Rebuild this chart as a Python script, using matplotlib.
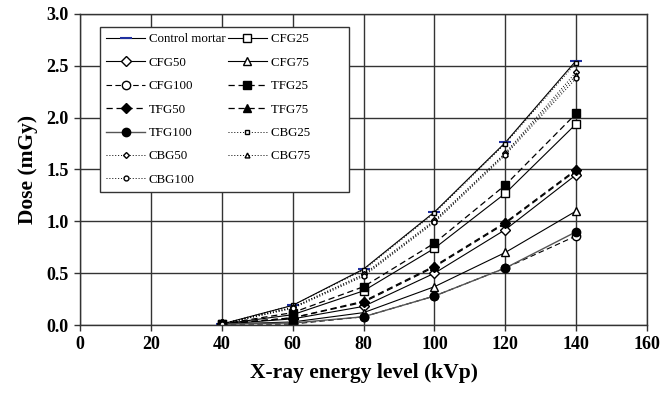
import numpy as np
import matplotlib
matplotlib.use('Agg')
import matplotlib.pyplot as plt

plt.rcParams['font.family'] = ['Liberation Serif', 'DejaVu Serif']

# --------------------------------------------------------------------------+
kvp = [40, 60, 80, 100, 120, 140]

control = [0.01, 0.19, 0.54, 1.09, 1.76, 2.55]
cfg25 = [0.01, 0.10, 0.33, 0.74, 1.27, 1.94]
cfg50 = [0.01, 0.06, 0.18, 0.50, 0.92, 1.45]
cfg75 = [0.01, 0.03, 0.12, 0.37, 0.70, 1.10]
cfg100 = [0.01, 0.01, 0.08, 0.28, 0.55, 0.86]
tfg25 = [0.01, 0.12, 0.37, 0.79, 1.35, 2.04]
tfg50 = [0.01, 0.07, 0.22, 0.56, 0.98, 1.49]
tfg75 = [0.01, 0.07, 0.23, 0.57, 0.99, 1.50]
tfg100 = [0.01, 0.02, 0.08, 0.28, 0.55, 0.90]
cbg25 = [0.01, 0.19, 0.53, 1.08, 1.75, 2.53]
cbg50 = [0.01, 0.17, 0.49, 1.01, 1.66, 2.44]
cbg75 = [0.01, 0.17, 0.48, 1.00, 1.65, 2.41]
cbg100 = [0.01, 0.16, 0.47, 0.99, 1.64, 2.38]

# --------------------------------------------------------------------------+

fig = plt.figure(figsize=(6.72, 3.95), dpi=100)
ax = fig.add_axes([0.119, 0.177, 0.844, 0.788])

k = 'black'
dash = (0, (5, 3))
dot = (0, (1, 2))
h = {}
h['Control mortar'], = ax.plot(kvp, control, color=k, lw=0.8, marker='_', mec='#2030a0', ms=9, mew=1.5)
h['CFG25'], = ax.plot(kvp, cfg25, color=k, lw=0.8, marker='s', mfc='white', mec=k, ms=6)
h['CFG50'], = ax.plot(kvp, cfg50, color=k, lw=0.8, marker='D', mfc='white', mec=k, ms=5)
h['CFG75'], = ax.plot(kvp, cfg75, color=k, lw=0.8, marker='^', mfc='white', mec=k, ms=6)
h['CFG100'], = ax.plot(kvp, cfg100, color=k, lw=0.8, ls=dash, marker='o', mfc='white', mec=k, ms=6)
h['TFG25'], = ax.plot(kvp, tfg25, color=k, lw=0.9, ls=dash, marker='s', mfc=k, mec=k, ms=6)
h['TFG50'], = ax.plot(kvp, tfg50, color=k, lw=0.9, ls=dash, marker='D', mfc=k, mec=k, ms=5)
h['TFG75'], = ax.plot(kvp, tfg75, color=k, lw=0.9, ls=dash, marker='^', mfc=k, mec=k, ms=6)
h['TFG100'], = ax.plot(kvp, tfg100, color='#555555', lw=1.0, marker='o', mfc=k, mec=k, ms=6)
h['CBG25'], = ax.plot(kvp, cbg25, color=k, lw=0.7, ls=dot, marker='s', mfc='white', mec=k, ms=3.5)
h['CBG50'], = ax.plot(kvp, cbg50, color=k, lw=0.7, ls=dot, marker='D', mfc='white', mec=k, ms=3)
h['CBG75'], = ax.plot(kvp, cbg75, color=k, lw=0.7, ls=dot, marker='^', mfc='white', mec=k, ms=3.5)
h['CBG100'], = ax.plot(kvp, cbg100, color=k, lw=0.7, ls=dot, marker='o', mfc='white', mec=k, ms=3.5)

ax.set_xlim(0, 160)
ax.set_ylim(0, 3.0)
ax.set_xticks(np.arange(0, 161, 20))
ax.set_yticks(np.arange(0, 3.01, 0.5))
ax.set_yticklabels(['%.1f' % v for v in np.arange(0, 3.01, 0.5)])
ax.grid(True, color='#333333', lw=1.0)
ax.set_axisbelow(True)
for s in ax.spines.values():
    s.set_color('#333333')
    s.set_linewidth(1.0)
ax.tick_params(direction='out', length=4, width=1.0, color='#333333', labelsize=13, pad=4)
for lab in ax.get_xticklabels() + ax.get_yticklabels():
    lab.set_fontweight('bold')

ax.set_xlabel('X-ray energy level (kVp)', fontsize=15.5, fontweight='bold', labelpad=7)
ax.set_ylabel('Dose (mGy)', fontsize=15.5, fontweight='bold', labelpad=6)

# row-wise order like the original legend (matplotlib fills columns first)
col1 = ['Control mortar', 'CFG50', 'CFG100', 'TFG50', 'TFG100', 'CBG50', 'CBG100']
col2 = ['CFG25', 'CFG75', 'TFG25', 'TFG75', 'CBG25', 'CBG75']
names = col1 + col2
# trailing blanks keep the empty margin at the right of the box
labels = col1 + [n + '\u2007' * 5 for n in col2]
leg = ax.legend([h[n] for n in names], labels, ncol=2, loc='upper left',
                bbox_to_anchor=(0.035, 0.958), borderaxespad=0, fontsize=9.3,
                frameon=True, fancybox=False, edgecolor='#333333', framealpha=1,
                handlelength=3.0, handletextpad=0.3, columnspacing=0.2,
                labelspacing=0.88, borderpad=0.5)
leg.get_frame().set_linewidth(1.0)

fig.savefig('out.png', dpi=100)
